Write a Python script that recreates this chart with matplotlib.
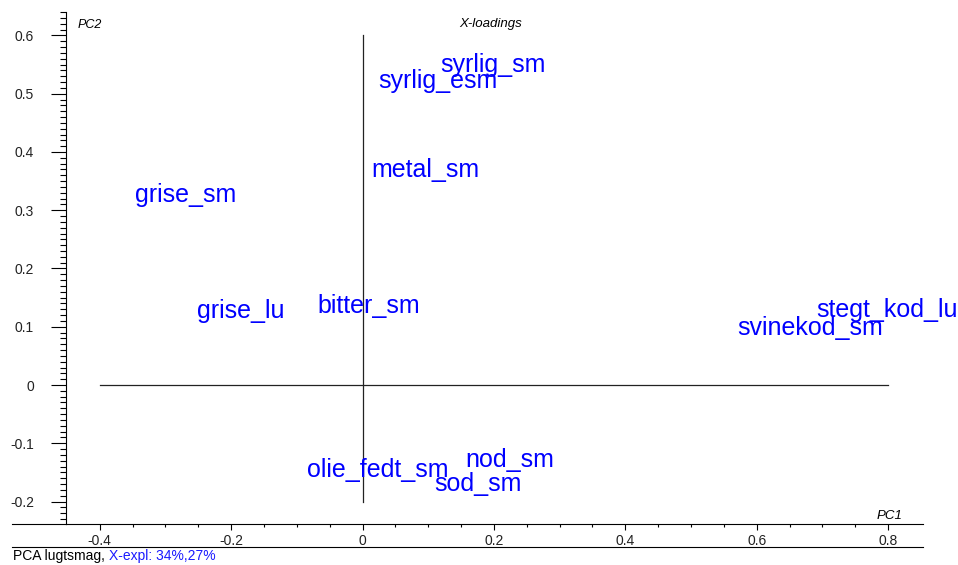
import numpy as np
import matplotlib
matplotlib.use('Agg')
import matplotlib.pyplot as plt
from matplotlib.lines import Line2D
from matplotlib.ticker import MultipleLocator, FixedLocator

plt.rcParams['font.family'] = ['Liberation Sans', 'DejaVu Sans']

# X-loadings (PC1, PC2)
names = ['syrlig_sm', 'syrlig_esm', 'metal_sm', 'grise_sm', 'bitter_sm',
         'grise_lu', 'stegt_kod_lu', 'svinekod_sm', 'olie_fedt_sm',
         'nod_sm', 'sod_sm']
pc1 = [0.118, 0.024, 0.014, -0.346, -0.068, -0.252, 0.690, 0.570,
       -0.084, 0.156, 0.109]
pc2 = [0.537, 0.510, 0.357, 0.314, 0.124, 0.115, 0.117, 0.086,
       -0.158, -0.141, -0.182]

x_ticks = [-0.4, -0.2, 0, 0.2, 0.4, 0.6, 0.8]
y_ticks = [-0.2, -0.1, 0, 0.1, 0.2, 0.3, 0.4, 0.5, 0.6]
tick_lbl = lambda v: '0' if v == 0 else '{:.1f}'.format(v)

W, H = 958, 565
fig = plt.figure(figsize=(W / 100, H / 100), dpi=100)
ax = fig.add_axes([66 / W, 1 - 524 / H, (923 - 66) / W, (524 - 12) / H])

ax.set_xlim(-0.4513, 0.8531)
ax.set_ylim(-0.2386, 0.6403)
ax.spines['top'].set_visible(False)
ax.spines['right'].set_visible(False)

ax.set_xticks(x_ticks)
ax.set_xticklabels([tick_lbl(v) for v in x_ticks])
ax.set_yticks(y_ticks)
ax.set_yticklabels([tick_lbl(v) for v in y_ticks])
ax.xaxis.set_minor_locator(FixedLocator(np.arange(-0.4, 0.81, 0.05)))
ax.yaxis.set_minor_locator(MultipleLocator(0.01))
ax.tick_params(axis='x', which='major', length=4.5, width=0.8, pad=3,
               labelsize=10, labelcolor='#222222')
ax.tick_params(axis='x', which='minor', length=2, width=0.8)
ax.tick_params(axis='y', which='major', length=11, width=0.8, pad=12,
               labelsize=10, labelcolor='#222222')
ax.tick_params(axis='y', which='minor', length=4.5, width=0.8)

# cross lines through origin
ax.plot([x_ticks[0], x_ticks[-1]], [0, 0], color='#222222', lw=0.9)
ax.plot([0, 0], [y_ticks[0], y_ticks[-1]], color='#222222', lw=0.9)

for n, x, y in zip(names, pc1, pc2):
    ax.text(x, y, n, color='#0000ff', fontsize=18, ha='left',
            va='baseline')

ax.text(0.014, 0.975, 'PC2', transform=ax.transAxes, fontsize=9,
        style='italic', va='center')
fig.text(491 / W, 1 - 24 / H, 'X-loadings', fontsize=9.5, style='italic',
         ha='center', va='center')
fig.text(890 / W, 1 - 516 / H, 'PC1', fontsize=9.5, style='italic',
         ha='center', va='center')

# extension of the bottom axis line and the separator line
fig.add_artist(Line2D([12 / W, 66 / W], [1 - 524 / H, 1 - 524 / H],
                      color='black', lw=0.8))
fig.add_artist(Line2D([12 / W, 923 / W], [1 - 547 / H, 1 - 547 / H],
                      color='black', lw=0.8))

t1 = fig.text(13 / W, 2 / H, 'PCA lugtsmag, ', fontsize=10, va='bottom')
fig.canvas.draw()
ext = t1.get_window_extent()
fig.text(ext.x1 / W, 2 / H, 'X-expl: 34%,27%', fontsize=10,
         color='#1a1aff', va='bottom')

fig.savefig('out.png', dpi=100)
